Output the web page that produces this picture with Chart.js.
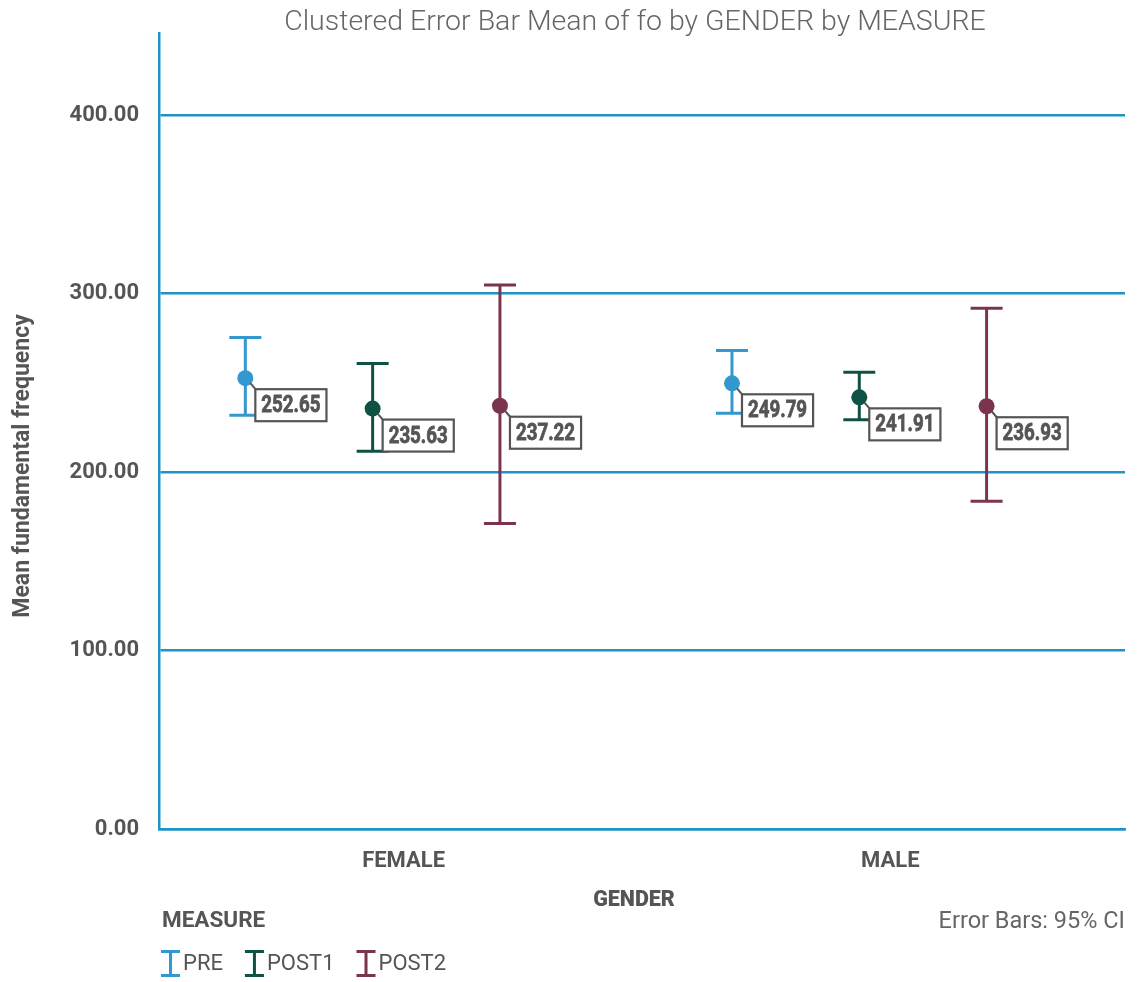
<!DOCTYPE html>
<html>
<head>
<meta charset="utf-8">
<script src="https://cdn.jsdelivr.net/npm/chart.js@4.4.1/dist/chart.umd.min.js"></script>
<style>
  html, body { margin: 0; padding: 0; background: #fff; }
  canvas { display: block; }
</style>
</head>
<body>
<canvas id="foChart" width="1147" height="982"></canvas>
<script>
const genders = ["FEMALE", "MALE"];
const measures = ["PRE", "POST1", "POST2"];
const measureColors = ["#3398cf", "#0f5245", "#7b3450"];

const preMean = [252.65, 249.79];
const preLow = [231.9, 233.0];
const preHigh = [275.5, 268.2];

const post1Mean = [235.63, 241.91];
const post1Low = [211.7, 229.3];
const post1High = [260.9, 256.0];

const post2Mean = [237.22, 236.93];
const post2Low = [171.2, 183.7];
const post2High = [304.9, 291.8];

const yTicks = [0, 100, 200, 300, 400];

const allMeans = [preMean, post1Mean, post2Mean];
const allLows = [preLow, post1Low, post2Low];
const allHighs = [preHigh, post1High, post2High];

const gridBlue = "#1f94c4";
const textGray = "#555555";
const clusterGap = 0.2616;

function xFor(g, m) {
    return g + (m - 1) * clusterGap;
}

const datasets = [];
measures.forEach((name, m) => {
    datasets.push({
        label: name,
        data: genders.map((g, i) => ({ x: xFor(i, m), y: allMeans[m][i] })),
        pointRadius: 8,
        pointBackgroundColor: measureColors[m],
        pointBorderWidth: 0,
        showLine: false,
        order: 0,
        isMean: true
    });
});
measures.forEach((name, m) => {
    const pts = [];
    genders.forEach((g, i) => {
        pts.push({ x: xFor(i, m), y: allLows[m][i] });
        pts.push({ x: xFor(i, m), y: allHighs[m][i] });
        pts.push({ x: xFor(i, m), y: null });
    });
    datasets.push({
        label: name + " CI",
        data: pts,
        showLine: true,
        spanGaps: false,
        borderColor: measureColors[m],
        borderWidth: 3,
        pointStyle: "line",
        pointRadius: 16,
        pointBorderColor: measureColors[m],
        pointBorderWidth: 3,
        order: 1
    });
});

const decor = {
    id: "decor",
    afterDatasetsDraw(chart) {
        const ctx = chart.ctx;
        ctx.save();

        // value boxes with leader lines
        chart.data.datasets.forEach((ds, di) => {
            if (!ds.isMean) return;
            const meta = chart.getDatasetMeta(di);
            meta.data.forEach((pt, i) => {
                const txt = ds.data[i].y.toFixed(2);
                const bx = pt.x + 10, by = pt.y + 11;
                ctx.font = "bold 24px Roboto";
                const sx = 0.78;
                const tw = ctx.measureText(txt).width * sx;
                const bw = tw + 12, bh = 32;

                ctx.strokeStyle = textGray;
                ctx.lineWidth = 2;
                ctx.beginPath();
                ctx.moveTo(pt.x + 5, pt.y + 5);
                ctx.lineTo(bx + 1, by + 1);
                ctx.stroke();

                ctx.fillStyle = "#ffffff";
                ctx.fillRect(bx, by, bw, bh);
                ctx.lineWidth = 2.2;
                ctx.strokeRect(bx, by, bw, bh);

                ctx.save();
                ctx.translate(bx + 6, by + bh / 2 + 1);
                ctx.scale(sx, 1);
                ctx.fillStyle = textGray;
                ctx.strokeStyle = textGray;
                ctx.lineWidth = 0.8;
                ctx.textAlign = "left";
                ctx.textBaseline = "middle";
                ctx.fillText(txt, 0, 0);
                ctx.strokeText(txt, 0, 0);
                ctx.restore();
            });
        });
        ctx.restore();
    },
    afterDraw(chart) {
        const ctx = chart.ctx;
        ctx.save();

        // title
        ctx.fillStyle = "#666666";
        ctx.font = "300 28.5px Roboto";
        ctx.textAlign = "center";
        ctx.textBaseline = "middle";
        ctx.fillText("Clustered Error Bar Mean of fo by GENDER by MEASURE", 635, 23);

        // y axis title
        ctx.save();
        ctx.translate(23, 466);
        ctx.rotate(-Math.PI / 2);
        ctx.fillStyle = textGray;
        ctx.font = "bold 23px Roboto";
        ctx.fillText("Mean fundamental frequency", 0, 0);
        ctx.restore();

        // x axis title
        ctx.fillStyle = textGray;
        ctx.font = "900 21.5px Roboto";
        ctx.fillText("GENDER", 634, 901);

        // footnote
        ctx.fillStyle = "#666666";
        ctx.font = "23.5px Roboto";
        ctx.textAlign = "right";
        ctx.fillText("Error Bars: 95% CI", 1125, 922);

        // legend
        ctx.textAlign = "left";
        ctx.fillStyle = textGray;
        ctx.font = "bold 22.5px Roboto";
        ctx.fillText("MEASURE", 162, 921);

        let x = 161;
        measures.forEach((name, m) => {
            ctx.strokeStyle = measureColors[m];
            ctx.lineWidth = 3;
            ctx.beginPath();
            ctx.moveTo(x, 951.5); ctx.lineTo(x + 19, 951.5);
            ctx.moveTo(x, 975.5); ctx.lineTo(x + 19, 975.5);
            ctx.moveTo(x + 9.5, 951.5); ctx.lineTo(x + 9.5, 975.5);
            ctx.stroke();
            ctx.fillStyle = textGray;
            ctx.font = "22px Roboto";
            ctx.fillText(name, x + 22, 964);
            x += 22 + ctx.measureText(name).width + 22;
        });
        ctx.restore();
    }
};

new Chart(document.getElementById("foChart").getContext("2d"), {
    type: "scatter",
    data: { datasets: datasets },
    options: {
        responsive: false,
        animation: false,
        events: [],
        layout: { padding: { left: 0, top: 33, right: 22, bottom: 0 } },
        plugins: {
            legend: { display: false },
            title: { display: false },
            tooltip: { enabled: false }
        },
        scales: {
            x: {
                type: "linear",
                min: -0.439,
                max: 1.546,
                afterFit: s => { s.height = 153; },
                afterBuildTicks: s => { s.ticks = genders.map((g, i) => ({ value: i })); },
                grid: { display: false, drawTicks: false },
                border: { display: true, color: gridBlue, width: 2.5 },
                ticks: {
                    autoSkip: false,
                    maxRotation: 0,
                    labelOffset: 31,
                    padding: 19,
                    color: textGray,
                    font: { family: "Roboto", weight: "bold", size: 22 },
                    callback: v => genders[v]
                }
            },
            y: {
                min: 0,
                max: 446,
                afterFit: s => { s.width = 159; },
                afterBuildTicks: s => { s.ticks = yTicks.map(v => ({ value: v })); },
                grid: { color: gridBlue, lineWidth: 2.5, drawTicks: false },
                border: { display: true, color: gridBlue, width: 2.5 },
                ticks: {
                    padding: 20,
                    color: textGray,
                    font: { family: "Roboto", weight: "bold", size: 22 },
                    callback: v => v.toFixed(2)
                }
            }
        }
    },
    plugins: [decor]
});
</script>
</body>
</html>
